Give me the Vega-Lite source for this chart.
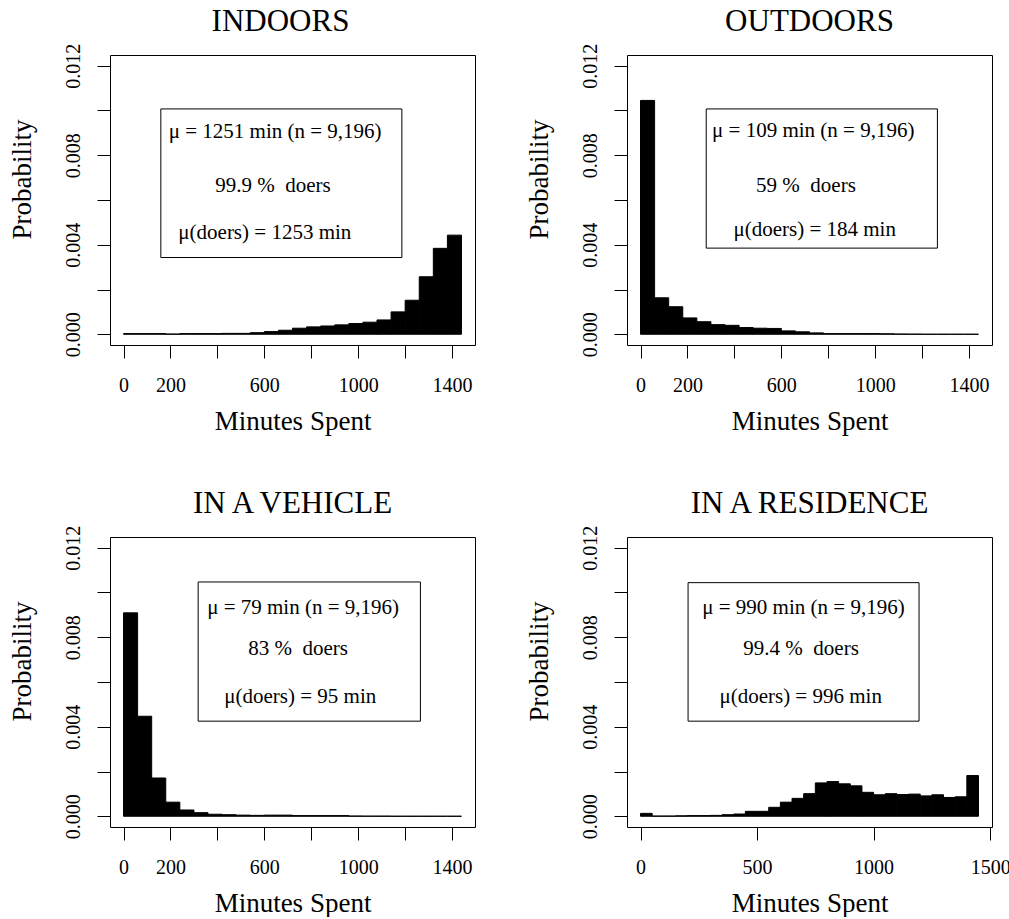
{
  "$schema": "https://vega.github.io/schema/vega-lite/v6.json",
  "padding": {"left": 7, "top": 5, "right": 0, "bottom": 0},
  "background": "white",
  "datasets": {
    "indoors": [
      {"start": 0, "end": 60, "p": 0.00003}, {"start": 60, "end": 120, "p": 0.00003},
      {"start": 120, "end": 180, "p": 0.00003}, {"start": 180, "end": 240, "p": 0.00001},
      {"start": 240, "end": 300, "p": 0.00003}, {"start": 300, "end": 360, "p": 0.00003},
      {"start": 360, "end": 420, "p": 0.00003}, {"start": 420, "end": 480, "p": 0.00004},
      {"start": 480, "end": 540, "p": 0.00004}, {"start": 540, "end": 600, "p": 0.00007},
      {"start": 600, "end": 660, "p": 0.00012}, {"start": 660, "end": 720, "p": 0.00018},
      {"start": 720, "end": 780, "p": 0.00027}, {"start": 780, "end": 840, "p": 0.00033},
      {"start": 840, "end": 900, "p": 0.00037}, {"start": 900, "end": 960, "p": 0.00042},
      {"start": 960, "end": 1020, "p": 0.00048}, {"start": 1020, "end": 1080, "p": 0.00054},
      {"start": 1080, "end": 1140, "p": 0.00064}, {"start": 1140, "end": 1200, "p": 0.00100},
      {"start": 1200, "end": 1260, "p": 0.00152}, {"start": 1260, "end": 1320, "p": 0.00257},
      {"start": 1320, "end": 1380, "p": 0.00384}, {"start": 1380, "end": 1440, "p": 0.00443}
    ],
    "outdoors": [
      {"start": 0, "end": 60, "p": 0.01045}, {"start": 60, "end": 120, "p": 0.00163},
      {"start": 120, "end": 180, "p": 0.00123}, {"start": 180, "end": 240, "p": 0.00073},
      {"start": 240, "end": 300, "p": 0.00056}, {"start": 300, "end": 360, "p": 0.00043},
      {"start": 360, "end": 420, "p": 0.00040}, {"start": 420, "end": 480, "p": 0.00030},
      {"start": 480, "end": 540, "p": 0.00027}, {"start": 540, "end": 600, "p": 0.00026},
      {"start": 600, "end": 660, "p": 0.00015}, {"start": 660, "end": 720, "p": 0.00011},
      {"start": 720, "end": 780, "p": 0.00006}, {"start": 780, "end": 840, "p": 0.00003},
      {"start": 840, "end": 900, "p": 0.00003}, {"start": 900, "end": 960, "p": 0.00003},
      {"start": 960, "end": 1020, "p": 0.00003}, {"start": 1020, "end": 1080, "p": 0.00002},
      {"start": 1080, "end": 1140, "p": 0.00001}, {"start": 1140, "end": 1200, "p": 0.000005},
      {"start": 1200, "end": 1260, "p": 0}, {"start": 1260, "end": 1320, "p": 0},
      {"start": 1320, "end": 1380, "p": 0}, {"start": 1380, "end": 1440, "p": 0}
    ],
    "vehicle": [
      {"start": 0, "end": 60, "p": 0.00909}, {"start": 60, "end": 120, "p": 0.00447},
      {"start": 120, "end": 180, "p": 0.00171}, {"start": 180, "end": 240, "p": 0.00063},
      {"start": 240, "end": 300, "p": 0.00028}, {"start": 300, "end": 360, "p": 0.00016},
      {"start": 360, "end": 420, "p": 0.00009}, {"start": 420, "end": 480, "p": 0.00007},
      {"start": 480, "end": 540, "p": 0.00005}, {"start": 540, "end": 600, "p": 0.00004},
      {"start": 600, "end": 660, "p": 0.00005}, {"start": 660, "end": 720, "p": 0.00005},
      {"start": 720, "end": 780, "p": 0.00003}, {"start": 780, "end": 840, "p": 0.00003},
      {"start": 840, "end": 900, "p": 0.00003}, {"start": 900, "end": 960, "p": 0.00003},
      {"start": 960, "end": 1020, "p": 0.00001}, {"start": 1020, "end": 1080, "p": 0.000005},
      {"start": 1080, "end": 1140, "p": 0.000005}, {"start": 1140, "end": 1200, "p": 0},
      {"start": 1200, "end": 1260, "p": 0}, {"start": 1260, "end": 1320, "p": 0},
      {"start": 1320, "end": 1380, "p": 0}, {"start": 1380, "end": 1440, "p": 0}
    ],
    "residence": [
      {"start": 0, "end": 50, "p": 0.00013}, {"start": 50, "end": 100, "p": 0.00001},
      {"start": 100, "end": 150, "p": 0.00001}, {"start": 150, "end": 200, "p": 0.00002},
      {"start": 200, "end": 250, "p": 0.00003}, {"start": 250, "end": 300, "p": 0.00003},
      {"start": 300, "end": 350, "p": 0.00004}, {"start": 350, "end": 400, "p": 0.00007},
      {"start": 400, "end": 450, "p": 0.00010}, {"start": 450, "end": 500, "p": 0.00022},
      {"start": 500, "end": 550, "p": 0.00022}, {"start": 550, "end": 600, "p": 0.00040},
      {"start": 600, "end": 650, "p": 0.00063}, {"start": 650, "end": 700, "p": 0.00080},
      {"start": 700, "end": 750, "p": 0.00101}, {"start": 750, "end": 800, "p": 0.00149},
      {"start": 800, "end": 850, "p": 0.00155}, {"start": 850, "end": 900, "p": 0.00145},
      {"start": 900, "end": 950, "p": 0.00136}, {"start": 950, "end": 1000, "p": 0.00107},
      {"start": 1000, "end": 1050, "p": 0.00096}, {"start": 1050, "end": 1100, "p": 0.00101},
      {"start": 1100, "end": 1150, "p": 0.00097}, {"start": 1150, "end": 1200, "p": 0.00099},
      {"start": 1200, "end": 1250, "p": 0.00091}, {"start": 1250, "end": 1300, "p": 0.00096},
      {"start": 1300, "end": 1350, "p": 0.00084}, {"start": 1350, "end": 1400, "p": 0.00087},
      {"start": 1400, "end": 1450, "p": 0.00182}
    ],
    "boxes": [
      {"panel": "INDOORS", "x1": 159, "x2": 1186, "y1": 0.00343, "y2": 0.01007},
      {"panel": "OUTDOORS", "x1": 280, "x2": 1265, "y1": 0.00385, "y2": 0.01007},
      {"panel": "VEHICLE", "x1": 318, "x2": 1265, "y1": 0.00425, "y2": 0.01047},
      {"panel": "RESIDENCE", "x1": 204, "x2": 1195, "y1": 0.00425, "y2": 0.01044}
    ],
    "notes": [
      {"panel": "INDOORS", "x": 646, "y": 0.00878, "label": "μ = 1251 min (n = 9,196)"},
      {"panel": "INDOORS", "x": 637, "y": 0.00634, "label": "99.9 %\u00a0 doers"},
      {"panel": "INDOORS", "x": 602, "y": 0.00425, "label": "μ(doers) = 1253 min"},
      {"panel": "OUTDOORS", "x": 736, "y": 0.0088, "label": "μ = 109 min (n = 9,196)"},
      {"panel": "OUTDOORS", "x": 705, "y": 0.00637, "label": "59 %\u00a0 doers"},
      {"panel": "OUTDOORS", "x": 742, "y": 0.0044, "label": "μ(doers) = 184 min"},
      {"panel": "VEHICLE", "x": 765, "y": 0.00905, "label": "μ = 79 min (n = 9,196)"},
      {"panel": "VEHICLE", "x": 744, "y": 0.00719, "label": "83 %\u00a0 doers"},
      {"panel": "VEHICLE", "x": 753, "y": 0.00507, "label": "μ(doers) = 95 min"},
      {"panel": "RESIDENCE", "x": 699, "y": 0.00905, "label": "μ = 990 min (n = 9,196)"},
      {"panel": "RESIDENCE", "x": 689, "y": 0.00719, "label": "99.4 %\u00a0 doers"},
      {"panel": "RESIDENCE", "x": 687, "y": 0.00507, "label": "μ(doers) = 996 min"}
    ]
  },
  "bounds": "flush",
  "columns": 2,
  "spacing": {"row": 192, "column": 152},
  "concat": [
    {
      "width": 365, "height": 290,
      "title": {"text": "INDOORS", "dx": -12},
      "layer": [
        {
          "data": {"name": "indoors"},
          "mark": {"type": "rect", "fill": "black", "stroke": "black", "strokeWidth": 1},
          "encoding": {
            "x": {"field": "start", "type": "quantitative", "title": "Minutes Spent", "scale": {"domain": [-57.6, 1497.6], "nice": false, "zero": false},
                  "axis": {"values": [0, 200, 400, 600, 800, 1000, 1200, 1400], "format": "d",
                           "labelExpr": "datum.value == 400 || datum.value == 800 || datum.value == 1200 ? '' : datum.label"}},
            "x2": {"field": "end"},
            "y": {"field": "p", "type": "quantitative", "title": "Probability", "scale": {"domain": [-0.00048, 0.01248], "nice": false, "zero": false},
                  "axis": {"values": [0, 0.002, 0.004, 0.006, 0.008, 0.01, 0.012], "format": ".3f",
                           "labelExpr": "round(datum.value * 1000) % 4 == 0 ? datum.label : ''"}},
            "y2": {"datum": 0}
          }
        },
        {
          "data": {"name": "boxes"},
          "transform": [{"filter": "datum.panel == 'INDOORS'"}],
          "mark": {"type": "rect", "fill": "white", "stroke": "black", "strokeWidth": 1},
          "encoding": {
            "x": {"field": "x1", "type": "quantitative", "title": "Minutes Spent"}, "x2": {"field": "x2"},
            "y": {"field": "y1", "type": "quantitative", "title": "Probability"}, "y2": {"field": "y2"}
          }
        },
        {
          "data": {"name": "notes"},
          "transform": [{"filter": "datum.panel == 'INDOORS'"}],
          "mark": {"type": "text", "font": "Liberation Serif", "fontSize": 21, "align": "center", "baseline": "alphabetic", "color": "black"},
          "encoding": {
            "x": {"field": "x", "type": "quantitative", "title": "Minutes Spent"},
            "y": {"field": "y", "type": "quantitative", "title": "Probability"},
            "text": {"field": "label"}
          }
        }
      ]
    },
    {
      "width": 365, "height": 290,
      "title": "OUTDOORS",
      "layer": [
        {
          "data": {"name": "outdoors"},
          "mark": {"type": "rect", "fill": "black", "stroke": "black", "strokeWidth": 1},
          "encoding": {
            "x": {"field": "start", "type": "quantitative", "title": "Minutes Spent", "scale": {"domain": [-57.6, 1497.6], "nice": false, "zero": false},
                  "axis": {"values": [0, 200, 400, 600, 800, 1000, 1200, 1400], "format": "d",
                           "labelExpr": "datum.value == 400 || datum.value == 800 || datum.value == 1200 ? '' : datum.label"}},
            "x2": {"field": "end"},
            "y": {"field": "p", "type": "quantitative", "title": "Probability", "scale": {"domain": [-0.00048, 0.01248], "nice": false, "zero": false},
                  "axis": {"values": [0, 0.002, 0.004, 0.006, 0.008, 0.01, 0.012], "format": ".3f",
                           "labelExpr": "round(datum.value * 1000) % 4 == 0 ? datum.label : ''"}},
            "y2": {"datum": 0}
          }
        },
        {
          "data": {"name": "boxes"},
          "transform": [{"filter": "datum.panel == 'OUTDOORS'"}],
          "mark": {"type": "rect", "fill": "white", "stroke": "black", "strokeWidth": 1},
          "encoding": {
            "x": {"field": "x1", "type": "quantitative", "title": "Minutes Spent"}, "x2": {"field": "x2"},
            "y": {"field": "y1", "type": "quantitative", "title": "Probability"}, "y2": {"field": "y2"}
          }
        },
        {
          "data": {"name": "notes"},
          "transform": [{"filter": "datum.panel == 'OUTDOORS'"}],
          "mark": {"type": "text", "font": "Liberation Serif", "fontSize": 21, "align": "center", "baseline": "alphabetic", "color": "black"},
          "encoding": {
            "x": {"field": "x", "type": "quantitative", "title": "Minutes Spent"},
            "y": {"field": "y", "type": "quantitative", "title": "Probability"},
            "text": {"field": "label"}
          }
        }
      ]
    },
    {
      "width": 365, "height": 290,
      "title": "IN A VEHICLE",
      "layer": [
        {
          "data": {"name": "vehicle"},
          "mark": {"type": "rect", "fill": "black", "stroke": "black", "strokeWidth": 1},
          "encoding": {
            "x": {"field": "start", "type": "quantitative", "title": "Minutes Spent", "scale": {"domain": [-57.6, 1497.6], "nice": false, "zero": false},
                  "axis": {"values": [0, 200, 400, 600, 800, 1000, 1200, 1400], "format": "d",
                           "labelExpr": "datum.value == 400 || datum.value == 800 || datum.value == 1200 ? '' : datum.label"}},
            "x2": {"field": "end"},
            "y": {"field": "p", "type": "quantitative", "title": "Probability", "scale": {"domain": [-0.00048, 0.01248], "nice": false, "zero": false},
                  "axis": {"values": [0, 0.002, 0.004, 0.006, 0.008, 0.01, 0.012], "format": ".3f",
                           "labelExpr": "round(datum.value * 1000) % 4 == 0 ? datum.label : ''"}},
            "y2": {"datum": 0}
          }
        },
        {
          "data": {"name": "boxes"},
          "transform": [{"filter": "datum.panel == 'VEHICLE'"}],
          "mark": {"type": "rect", "fill": "white", "stroke": "black", "strokeWidth": 1},
          "encoding": {
            "x": {"field": "x1", "type": "quantitative", "title": "Minutes Spent"}, "x2": {"field": "x2"},
            "y": {"field": "y1", "type": "quantitative", "title": "Probability"}, "y2": {"field": "y2"}
          }
        },
        {
          "data": {"name": "notes"},
          "transform": [{"filter": "datum.panel == 'VEHICLE'"}],
          "mark": {"type": "text", "font": "Liberation Serif", "fontSize": 21, "align": "center", "baseline": "alphabetic", "color": "black"},
          "encoding": {
            "x": {"field": "x", "type": "quantitative", "title": "Minutes Spent"},
            "y": {"field": "y", "type": "quantitative", "title": "Probability"},
            "text": {"field": "label"}
          }
        }
      ]
    },
    {
      "width": 365, "height": 290,
      "title": "IN A RESIDENCE",
      "layer": [
        {
          "data": {"name": "residence"},
          "mark": {"type": "rect", "fill": "black", "stroke": "black", "strokeWidth": 1},
          "encoding": {
            "x": {"field": "start", "type": "quantitative", "title": "Minutes Spent", "scale": {"domain": [-58, 1508], "nice": false, "zero": false},
                  "axis": {"values": [0, 500, 1000, 1500], "format": "d"}},
            "x2": {"field": "end"},
            "y": {"field": "p", "type": "quantitative", "title": "Probability", "scale": {"domain": [-0.00048, 0.01248], "nice": false, "zero": false},
                  "axis": {"values": [0, 0.002, 0.004, 0.006, 0.008, 0.01, 0.012], "format": ".3f",
                           "labelExpr": "round(datum.value * 1000) % 4 == 0 ? datum.label : ''"}},
            "y2": {"datum": 0}
          }
        },
        {
          "data": {"name": "boxes"},
          "transform": [{"filter": "datum.panel == 'RESIDENCE'"}],
          "mark": {"type": "rect", "fill": "white", "stroke": "black", "strokeWidth": 1},
          "encoding": {
            "x": {"field": "x1", "type": "quantitative", "title": "Minutes Spent"}, "x2": {"field": "x2"},
            "y": {"field": "y1", "type": "quantitative", "title": "Probability"}, "y2": {"field": "y2"}
          }
        },
        {
          "data": {"name": "notes"},
          "transform": [{"filter": "datum.panel == 'RESIDENCE'"}],
          "mark": {"type": "text", "font": "Liberation Serif", "fontSize": 21, "align": "center", "baseline": "alphabetic", "color": "black"},
          "encoding": {
            "x": {"field": "x", "type": "quantitative", "title": "Minutes Spent"},
            "y": {"field": "y", "type": "quantitative", "title": "Probability"},
            "text": {"field": "label"}
          }
        }
      ]
    }
  ],
  "config": {
    "view": {"stroke": "black", "strokeWidth": 1},
    "font": "Liberation Serif",
    "axis": {
      "domain": false, "grid": false, "ticks": true, "tickColor": "black", "tickSize": 13, "tickWidth": 1,
      "labelFont": "Liberation Serif", "labelFontSize": 20, "labelColor": "black",
      "titleFont": "Liberation Serif", "titleFontSize": 27, "titleFontWeight": "normal", "titleColor": "black",
      "labelFlush": false, "labelOverlap": false
    },
    "axisX": {"labelPadding": 17, "labelAngle": 0, "labelBaseline": "top", "labelAlign": "center",
              "titleBaseline": "alphabetic", "titleY": 84, "titleAlign": "center"},
    "axisY": {"labelPadding": 14, "labelAngle": -90, "labelAlign": "center", "labelBaseline": "bottom",
              "titleAngle": -90, "titleBaseline": "alphabetic", "titleX": -80, "titleY": 124, "titleAlign": "center"},
    "title": {"font": "Liberation Serif", "fontSize": 31, "fontWeight": "normal", "color": "black",
              "anchor": "middle", "frame": "group", "baseline": "alphabetic", "offset": 5}
  }
}
